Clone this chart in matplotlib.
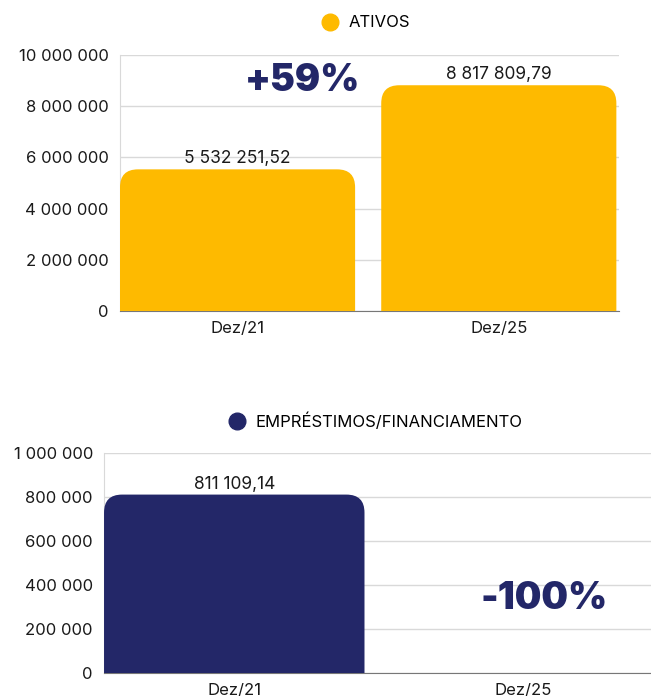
import matplotlib.pyplot as plt
from matplotlib.patches import PathPatch
from matplotlib.path import Path
from matplotlib.lines import Line2D

plt.rcParams['font.family'] = ['Inter', 'DejaVu Sans']

# data
periods = ['Dez/21', 'Dez/25']
ativos = [5532251.52, 8817809.79]
emprestimos = [811109.14, 0]
ativos_change = '+59%'
emprestimos_change = '-100%'

YELLOW = '#FEBA00'
NAVY = '#232768'
TXT = '#1a1a1a'


def fmt(v, decimals=0):
    # 5532251.52 -> "5 532 251,52"
    s = f'{v:,.{decimals}f}'
    return s.replace(',', ' ').replace('.', ',')


def rounded_bars(ax, bars, color, radius_px=18):
    # swap each plain rectangle for one with rounded top corners
    fig = ax.figure
    fig.canvas.draw()
    bbox = ax.get_window_extent()
    x0, x1 = ax.get_xlim()
    y0, y1 = ax.get_ylim()
    rx = radius_px * (x1 - x0) / bbox.width
    ry = radius_px * (y1 - y0) / bbox.height
    for b in bars:
        x, w, h = b.get_x(), b.get_width(), b.get_height()
        b.set_visible(False)
        if h <= 0:
            continue
        r_y = min(ry, h)
        verts = [
            (x, 0), (x + w, 0), (x + w, h - r_y),
            (x + w, h), (x + w - rx, h),
            (x + rx, h),
            (x, h), (x, h - r_y),
            (x, 0),
        ]
        codes = [Path.MOVETO, Path.LINETO, Path.LINETO,
                 Path.CURVE3, Path.CURVE3,
                 Path.LINETO,
                 Path.CURVE3, Path.CURVE3,
                 Path.CLOSEPOLY]
        ax.add_patch(PathPatch(Path(verts, codes), facecolor=color,
                               edgecolor='none', zorder=3))


def style_axes(ax, ymax, step):
    ax.set_ylim(0, ymax)
    ax.set_xlim(-0.45, 1.46)
    ax.set_yticks(range(0, ymax + 1, step))
    ax.set_yticklabels([fmt(t) for t in range(0, ymax + 1, step)])
    ax.set_xticks(range(len(periods)))
    ax.set_xticklabels(periods)
    ax.grid(axis='y', color='#d9d9d9', linewidth=1, zorder=0)
    ax.set_axisbelow(True)
    for s in ['top', 'right']:
        ax.spines[s].set_visible(False)
    ax.spines['left'].set_color('#d9d9d9')
    ax.spines['bottom'].set_color('#777777')
    ax.tick_params(length=0, labelsize=12, colors=TXT)
    ax.tick_params(axis='y', pad=8)
    ax.tick_params(axis='x', pad=7)


fig = plt.figure(figsize=(6.51, 6.96), dpi=100)

# top chart: ativos
ax1 = fig.add_axes([0.1843, 0.5532, 0.7665, 0.3678])
style_axes(ax1, 10000000, 2000000)
b1 = ax1.bar(range(len(periods)), ativos, width=0.9, color=YELLOW)
rounded_bars(ax1, b1, YELLOW)
for i, v in enumerate(ativos):
    ax1.annotate(fmt(v, 2), (i, v), xytext=(0, 1.5), textcoords='offset points',
                 ha='center', va='bottom', fontsize=12.5, color=TXT)
ax1.text(0.25, 9.0e6, ativos_change, ha='center', va='center',
         fontsize=27, fontweight='black', color=NAVY)
ax1.legend(handles=[Line2D([], [], marker='o', ls='', color=YELLOW, markersize=12,
                           label='ATIVOS')],
           loc='lower center', bbox_to_anchor=(0.484, 1.07), frameon=False,
           fontsize=12, handletextpad=0.1, borderaxespad=0)

# bottom chart: emprestimos
ax2 = fig.add_axes([0.1598, 0.033, 0.8402, 0.3161])
style_axes(ax2, 1000000, 200000)
ax2.set_xlim(-0.45, 1.44)
b2 = ax2.bar(range(len(periods)), emprestimos, width=0.9, color=NAVY)
rounded_bars(ax2, b2, NAVY)
ax2.annotate(fmt(emprestimos[0], 2), (0, emprestimos[0]), xytext=(0, 1.5),
             textcoords='offset points', ha='center', va='bottom',
             fontsize=12.5, color=TXT)
ax2.text(1.07, 3.35e5, emprestimos_change, ha='center', va='center',
         fontsize=27, fontweight='black', color=NAVY)
ax2.legend(handles=[Line2D([], [], marker='o', ls='', color=NAVY, markersize=12,
                           label='EMPRÉSTIMOS/FINANCIAMENTO')],
           loc='lower center', bbox_to_anchor=(0.489, 1.073), frameon=False,
           fontsize=12, handletextpad=0.1, borderaxespad=0)

fig.savefig('out.png', dpi=100)
